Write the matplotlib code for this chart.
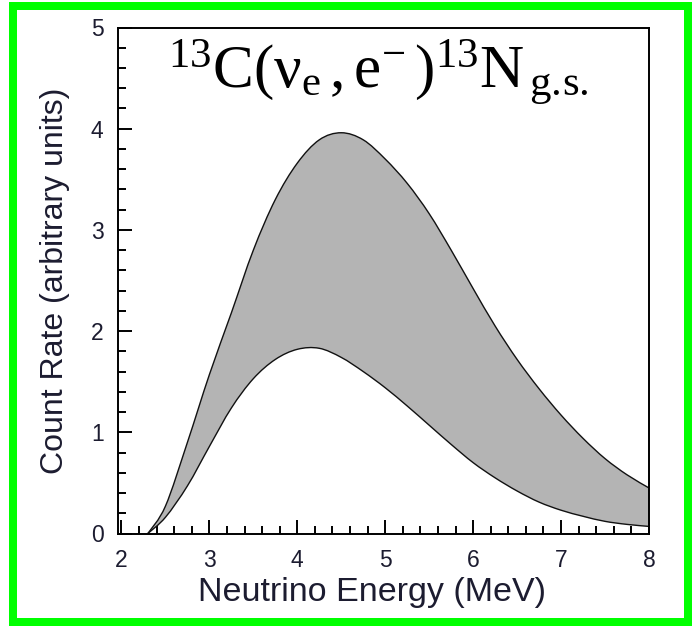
import matplotlib
matplotlib.use("Agg")
import matplotlib.pyplot as plt
from matplotlib.patches import Rectangle, PathPatch
from matplotlib.path import Path
from matplotlib.ticker import MultipleLocator

# Neutrino energy (MeV)
energy = [2.3, 2.5, 2.75, 3.0, 3.25, 3.5, 3.75, 4.0, 4.25, 4.5, 4.75, 5.0,
          5.25, 5.5, 5.75, 6.0, 6.25, 6.5, 6.75, 7.0, 7.25, 7.5, 7.75, 8.0]
# Upper edge of count-rate band
upper = [0.0, 0.27, 0.90, 1.57, 2.18, 2.80, 3.30, 3.66, 3.89, 3.96, 3.89, 3.70,
         3.46, 3.16, 2.80, 2.42, 2.05, 1.72, 1.43, 1.17, 0.94, 0.74, 0.58, 0.45]
# Lower edge of count-rate band
lower = [0.0, 0.16, 0.47, 0.86, 1.24, 1.53, 1.72, 1.82, 1.83, 1.74, 1.60, 1.44,
         1.26, 1.07, 0.88, 0.70, 0.55, 0.42, 0.31, 0.23, 0.17, 0.12, 0.09, 0.07]

xticks = [2, 3, 4, 5, 6, 7, 8]
yticks = [0, 1, 2, 3, 4, 5]


def smooth_segments(xs, ys):
    """Catmull-Rom through the points, expressed as cubic Bezier segments."""
    pts = list(zip(xs, ys))
    n = len(pts)
    verts = []
    for i in range(n - 1):
        p0 = pts[i - 1] if i > 0 else pts[i]
        p1 = pts[i]
        p2 = pts[i + 1]
        p3 = pts[i + 2] if i + 2 < n else pts[i + 1]
        c1 = (p1[0] + (p2[0] - p0[0]) / 6, p1[1] + (p2[1] - p0[1]) / 6)
        c2 = (p2[0] - (p3[0] - p1[0]) / 6, p2[1] - (p3[1] - p1[1]) / 6)
        verts += [c1, c2, p2]
    return pts[0], verts


def curve_path(xs, ys):
    start, verts = smooth_segments(xs, ys)
    return Path([start] + verts, [Path.MOVETO] + [Path.CURVE4] * len(verts))


def band_path(xs, lo, hi):
    s1, v1 = smooth_segments(xs, hi)
    s2, v2 = smooth_segments(xs[::-1], lo[::-1])
    verts = [s1] + v1 + [s2] + v2 + [s1]
    codes = ([Path.MOVETO] + [Path.CURVE4] * len(v1) + [Path.LINETO]
             + [Path.CURVE4] * len(v2) + [Path.CLOSEPOLY])
    return Path(verts, codes)


plt.rcParams['font.family'] = ['Liberation Sans', 'DejaVu Sans']
plt.rcParams['mathtext.fontset'] = 'custom'
plt.rcParams['mathtext.rm'] = 'Liberation Serif'
plt.rcParams['mathtext.it'] = 'Liberation Serif:italic'

fig = plt.figure(figsize=(6.93, 6.27), dpi=100)
ax = fig.add_axes([117.5 / 693, 1 - 533.5 / 627, (649 - 117.5) / 693, (533.5 - 27.5) / 627])

ax.add_patch(PathPatch(band_path(energy, lower, upper), facecolor='#b4b4b4',
                       edgecolor='none', zorder=1))
ax.add_patch(PathPatch(curve_path(energy, upper), facecolor='none',
                       edgecolor='#111111', lw=1.0, zorder=2))
ax.add_patch(PathPatch(curve_path(energy, lower), facecolor='none',
                       edgecolor='#111111', lw=1.0, zorder=2))

ax.set_xlim(1.955, 8.0)
ax.set_ylim(0, 5)
ax.set_xticks(xticks)
ax.set_yticks(yticks)
ax.xaxis.set_minor_locator(MultipleLocator(0.2))
ax.yaxis.set_minor_locator(MultipleLocator(0.2))
ax.tick_params(which='both', direction='in', top=False, right=False, width=1.4, color='black')
ax.tick_params(which='major', length=10, labelsize=16.5, labelcolor='#1c1c30')
ax.tick_params(axis='y', which='major', pad=10)
ax.tick_params(axis='x', which='major', pad=11)
ax.tick_params(which='minor', length=5.5)
for s in ax.spines.values():
    s.set_linewidth(1.4)

ax.set_xlabel('Neutrino Energy (MeV)', fontsize=24.5, color='#1c1c30')
ax.xaxis.set_label_coords(0.479, -0.085, transform=ax.transAxes)
ax.xaxis.label.set_va('top')
ax.set_ylabel('Count Rate (arbitrary units)', fontsize=23, color='#1c1c30', labelpad=15)

ax.text(0.095, 0.882,
        r'$^{13}\mathrm{C}(\mathrm{ν}_{\mathrm{e}}\,,\mathrm{e}^{-}\,)^{13}\mathrm{N}_{\,\mathrm{g.\!s.}}$',
        transform=ax.transAxes, fontsize=44, color='black', ha='left', va='baseline')

# green frame
lw_px = 8
rect = Rectangle((13 / 693, 1 - 622 / 627), (688 - 13) / 693, (622 - 6) / 627,
                 transform=fig.transFigure, fill=False, edgecolor='#00ff00',
                 linewidth=lw_px * 72 / 100, zorder=10)
fig.patches.append(rect)

fig.savefig('out.png', dpi=100)
